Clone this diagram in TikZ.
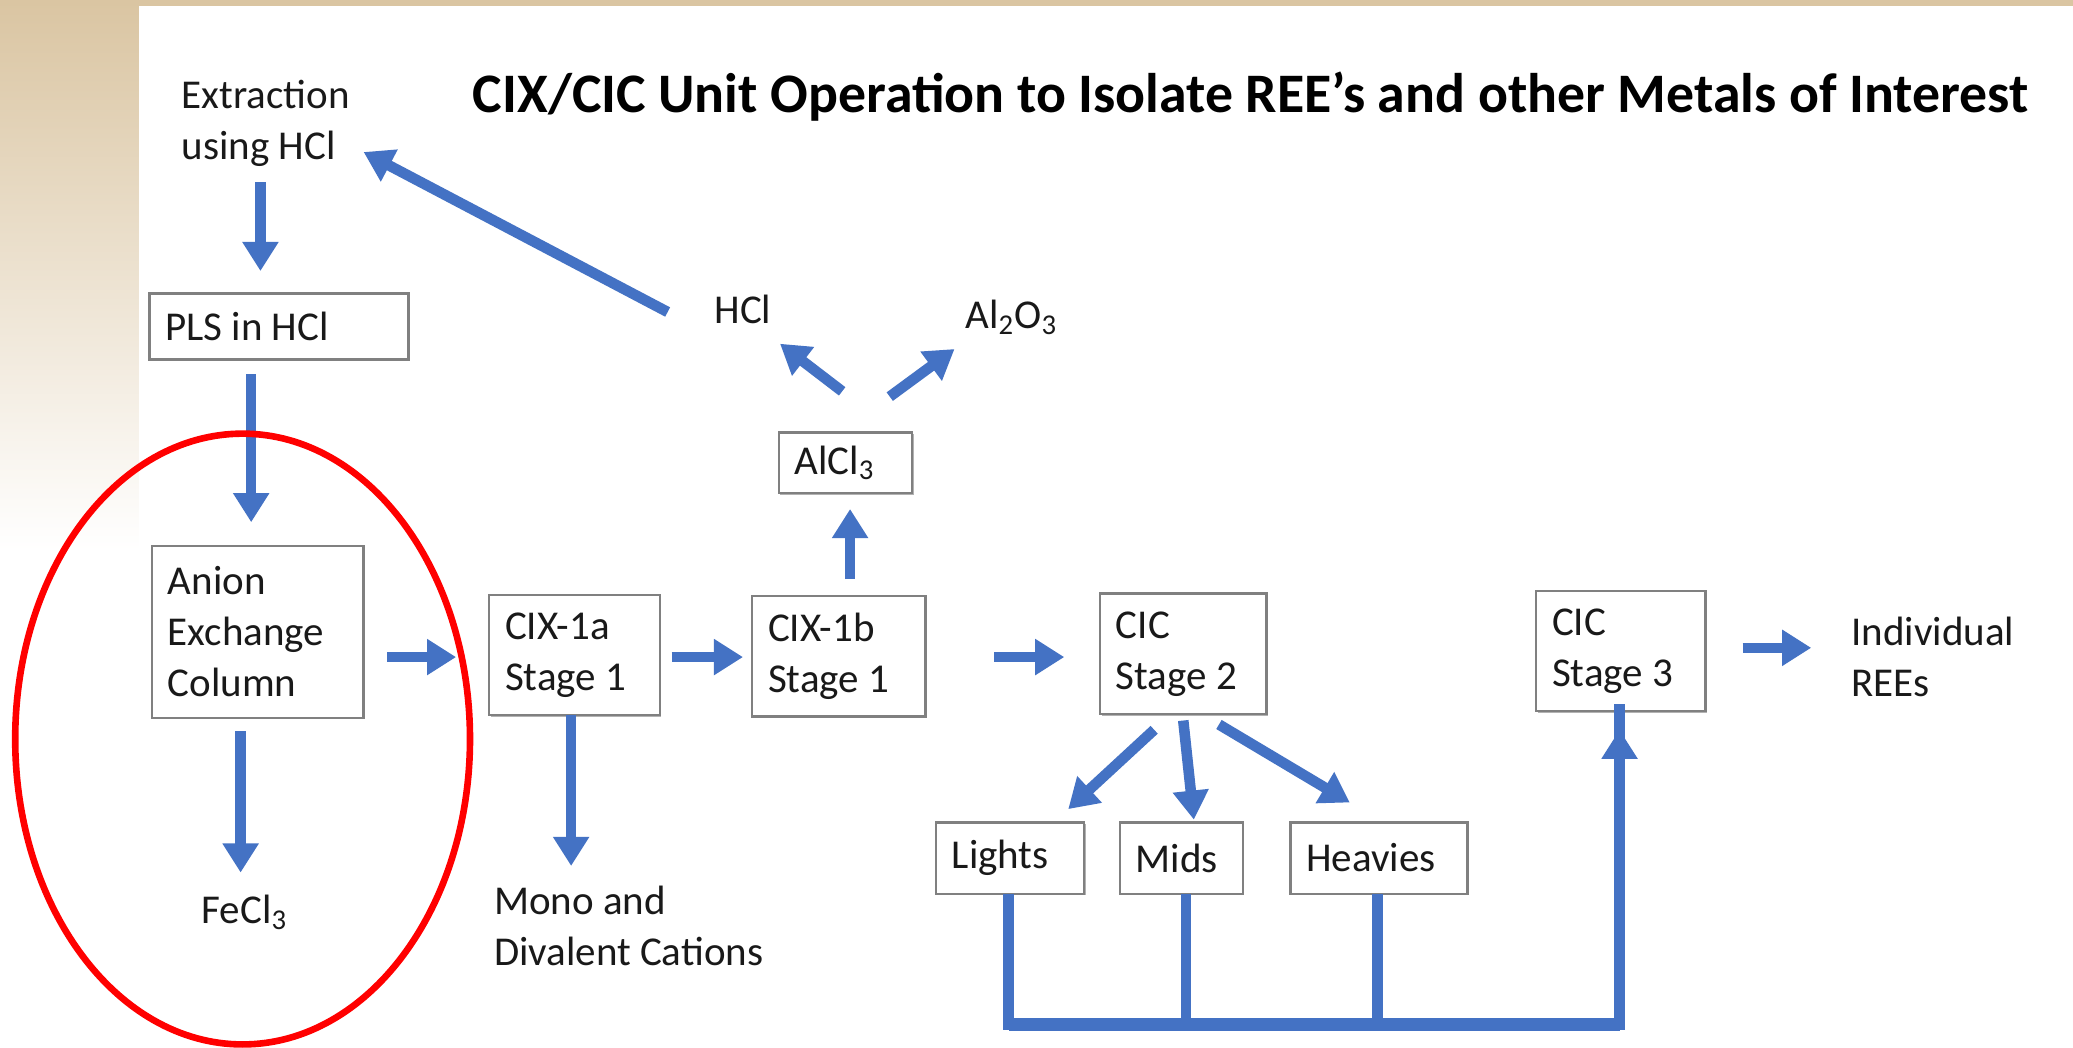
\documentclass[tikz,border=0pt]{standalone}
\usepackage{fontspec}
\setmainfont{Carlito}
\usetikzlibrary{arrows.meta,calc,shadows}
\definecolor{flowblue}{RGB}{68,114,196}
\definecolor{tanbg}{RGB}{218,197,162}
\definecolor{boxgray}{RGB}{128,128,128}
\tikzset{
  bodytext/.style={font=\fontsize{15.5}{19.3}\selectfont, inner sep=0pt, align=flush left, text=black!90},
  box/.style={bodytext, draw=boxgray, line width=0.9pt, fill=white, inner xsep=6pt, inner ysep=0pt,
    drop shadow={shadow xshift=0.6pt, shadow yshift=-0.6pt, opacity=0.3, fill=black}},
  flow/.style={draw=flowblue, line width=4pt, -{Triangle[width=13pt,length=11pt]}},
  bus/.style={draw=flowblue, line width=4pt, line join=miter},
}
\begin{document}
\begin{tikzpicture}[x=0.5pt,y=-0.5pt]
\useasboundingbox (0,0) rectangle (1568,792);
% background
\fill[white] (0,0) rectangle (1568,792);
\shade[top color=tanbg, bottom color=white] (0,0) rectangle (105,416);
\fill[tanbg] (0,0) rectangle (1568,4.5);

% title
\node[font=\bfseries\fontsize{21.1}{25}\selectfont, inner sep=0pt] (title) at (946,73)
  {CIX/CIC Unit Operation to Isolate REE’s and other Metals of Interest};

% free text
\node[bodytext] (extr) at (201,93) {Extraction\\using HCl};
\node[bodytext] (hcl) at (562,234) {HCl};
\node[bodytext] (al2o3) at (765,240) {Al\textsubscript{2}O\textsubscript{3}};
\node[bodytext] (fecl3) at (185,690) {FeCl\textsubscript{3}};
\node[bodytext] (mono) at (475.5,700) {Mono and\\Divalent Cations};
\node[bodytext] (indiv) at (1462,497) {Individual\\REEs};

% boxes
\node[box, minimum width=98pt, minimum height=25pt, text width=86pt] (pls) at (211,247) {PLS in HCl};
\node[box, minimum width=80pt, minimum height=65pt, text width=68pt] (anion) at (195,478) {Anion\\Exchange\\Column};
\node[box, minimum width=64.5pt, minimum height=45.5pt, text width=52.5pt] (cix1a) at (434.5,495.5) {CIX-1a\\Stage 1};
\node[box, minimum width=65.5pt, minimum height=45.5pt, text width=53.5pt] (cix1b) at (634.5,496.5) {CIX-1b\\Stage 1};
\node[box, minimum width=50.5pt, minimum height=23pt, text width=38.5pt] (alcl3) at (639.5,350) {AlCl\textsubscript{3}};
\node[box, minimum width=63pt, minimum height=45.5pt, text width=51pt] (cic2) at (895,494.5) {CIC\\Stage 2};
\node[box, minimum width=56pt, minimum height=27pt, text width=44pt] (lights) at (764,649) {Lights};
\node[box, minimum width=46.5pt, minimum height=27pt, text width=34.5pt] (mids) at (893.5,649) {Mids};
\node[box, minimum width=67pt, minimum height=27pt, text width=55pt] (heavies) at (1043,649) {Heavies};
\node[box, minimum width=64pt, minimum height=45.5pt, text width=52pt] (cic3) at (1226,492.5) {CIC\\Stage 3};

% connectors
\draw[flow] ($(extr.center)+(-4,45)$) -- ($(pls.center)+(-14,-42)$);
\draw[flow] ($(pls.center)+(-21,36)$) -- ($(anion.center)+(-5,-83)$);
\draw[flow] ($(anion.center)+(98,19)$) -- ($(cix1a.center)+(-89.5,1.5)$);
\draw[flow] ($(cix1a.center)+(73.5,1.5)$) -- ($(cix1b.center)+(-72.5,0.5)$);
\draw[flow] ($(cix1b.center)+(8.5,-58.5)$) -- ($(alcl3.center)+(3.5,35)$);
\draw[flow] ($(alcl3.center)+(-2.5,-54)$) -- ($(hcl.center)+(28,26)$);
\draw[flow] ($(alcl3.center)+(33.5,-50)$) -- ($(al2o3.center)+(-43,24)$);
\draw[flow] ($(hcl.center)+(-57,2)$) -- ($(extr.center)+(74,22)$);
\draw[flow] ($(cix1b.center)+(117.5,0.5)$) -- ($(cic2.center)+(-90,2.5)$);
\draw[flow] ($(cic2.center)+(-22,57.5)$) -- ($(lights.center)+(44,-37)$);
\draw[flow] ($(cic2.center)+(0,50.5)$) -- ($(mids.center)+(9.5,-29)$);
\draw[flow] ($(cic2.center)+(27,53.5)$) -- ($(heavies.center)+(-22,-42)$);
\draw[flow] ($(anion.center)+(-13,75)$) -- ($(fecl3.center)+(-3,-30)$);
\draw[flow] ($(cix1a.center)+(-2.5,45.5)$) -- ($(mono.center)+(-43.5,-45)$);
\draw[flow] ($(cic3.center)+(92,-2.5)$) -- ($(indiv.center)+(-92,-7)$);

% collection bus
\coordinate (busL) at ($(lights.center)+(-1,126)$);
\coordinate (busR) at ($(cic3.center)+(-1,282.5)$);
\draw[bus] ($(mids.center)+(3.5,27)$) -- ($(mids.center)+(3.5,126)$);
\draw[bus] ($(heavies.center)+(-1,27)$) -- ($(heavies.center)+(-1,126)$);
\draw[bus, line width=5pt] (busL) -- (busR);
\draw[bus] ($(lights.center)+(-1,27)$) -- (busL) -- (busR) -- ($(cic3.center)+(-1,40)$);
\draw[flow] (busR) -- ($(cic3.center)+(-1,59.5)$);

% highlight ellipse
\draw[red, line width=2.5pt] (183.5,559) ellipse [x radius=86pt, y radius=115.5pt];
\end{tikzpicture}
\end{document}
